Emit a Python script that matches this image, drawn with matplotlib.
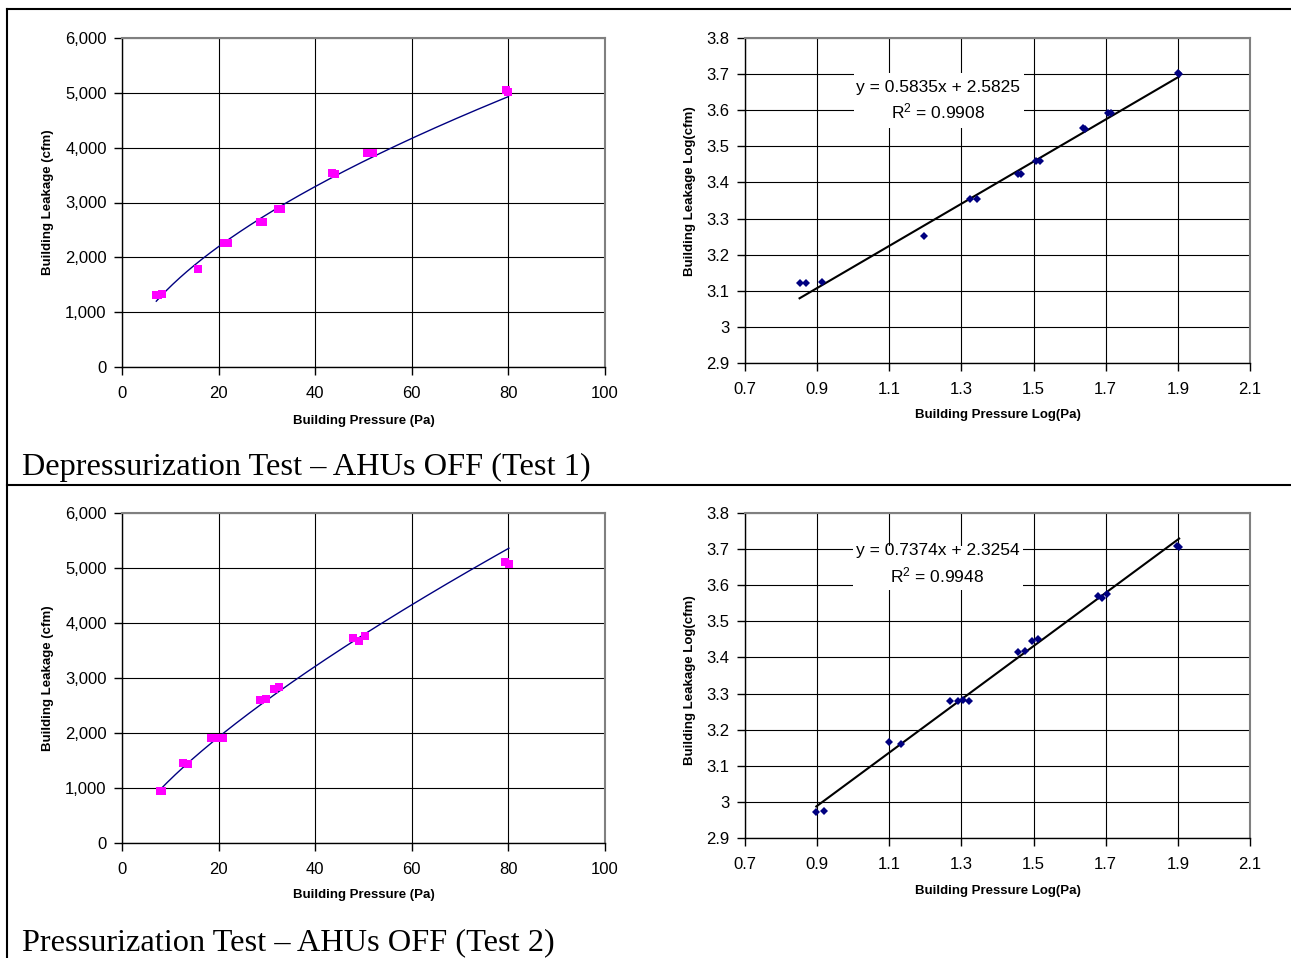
import numpy as np
import matplotlib
matplotlib.use("Agg")
import matplotlib.pyplot as plt
from matplotlib.lines import Line2D
from matplotlib.patches import Rectangle
from matplotlib.ticker import FuncFormatter, MultipleLocator, FixedLocator

plt.rcParams["font.family"] = ["Liberation Sans", "DejaVu Sans"]
plt.rcParams["mathtext.fontset"] = "custom"
plt.rcParams["mathtext.rm"] = "Liberation Sans"
plt.rcParams["mathtext.it"] = "Liberation Sans:italic"

# ---- Test 1: depressurization, AHUs off ----
test1_pressure_pa = [7.1, 7.4, 8.2, 15.7, 21.1, 22.0, 28.6, 29.1, 32.2, 33.0,
                     43.4, 44.0, 50.8, 51.9, 79.6, 80.0]
test1_leakage_cfm = [1321, 1321, 1334, 1782, 2265, 2265, 2649, 2649, 2884, 2884,
                     3545, 3525, 3899, 3899, 5050, 5010]
test1_slope = 0.5835
test1_intercept = 2.5825
test1_r2 = 0.9908

# ---- Test 2: pressurization, AHUs off ----
test2_pressure_pa = [7.9, 8.3, 12.6, 13.6, 18.5, 19.5, 20.1, 20.9, 28.6, 29.9,
                     31.4, 32.5, 47.8, 49.1, 50.4, 79.2, 80.1]
test2_leakage_cfm = [940, 942, 1462, 1442, 1905, 1905, 1914, 1905, 2606, 2624,
                     2793, 2831, 3724, 3681, 3767, 5105, 5070]
test2_slope = 0.7374
test2_intercept = 2.3254
test2_r2 = 0.9948

log_x_ticks = [0.7, 0.9, 1.1, 1.3, 1.5, 1.7, 1.9, 2.1]

captions = ["Depressurization Test \u2013 AHUs OFF (Test 1)",
            "Pressurization Test \u2013 AHUs OFF (Test 2)"]

W, H = 1291, 958
fig = plt.figure(figsize=(W / 100, H / 100), dpi=100)
fig.patch.set_facecolor("white")


def px_axes(left, top, right, bottom):
    return fig.add_axes([left / W, 1 - bottom / H, (right - left) / W, (bottom - top) / H])


def style(ax):
    ax.set_axisbelow(True)
    ax.grid(True, color="black", lw=0.8)
    for s in ("top", "right"):
        ax.spines[s].set_color("#808080")
        ax.spines[s].set_linewidth(1.5)
    for s in ("left", "bottom"):
        ax.spines[s].set_color("black")
        ax.spines[s].set_linewidth(1.0)
    ax.tick_params(direction="out", length=6, width=1, labelsize=12, colors="black")
    ax.tick_params(axis="x", pad=7.5)
    ax.tick_params(axis="y", pad=5)


def linear_panel(ax, P, Q, slope, intercept, xlab_y, ylab_x):
    P = np.asarray(P, float)
    Q = np.asarray(Q, float)
    ax.plot(P, Q, "s", color="#FF00FF", ms=5.2, mew=0, zorder=4)
    p = np.linspace(P.min(), P.max(), 300)
    ax.plot(p, 10 ** intercept * p ** slope, color="#000080", lw=1.0, zorder=3)
    ax.set_xlim(0, 100)
    ax.set_ylim(0, 6000)
    ax.xaxis.set_major_locator(MultipleLocator(20))
    ax.yaxis.set_major_locator(MultipleLocator(1000))
    ax.yaxis.set_major_formatter(FuncFormatter(lambda v, _: f"{v:,.0f}"))
    style(ax)
    ax.set_xlabel("Building Pressure (Pa)", fontsize=9.5, fontweight="bold")
    ax.set_ylabel("Building Leakage (cfm)", fontsize=9.5, fontweight="bold")
    ax.xaxis.label.set_va("center")
    ax.yaxis.label.set_va("center")
    ax.xaxis.set_label_coords(0.5, xlab_y)
    ax.yaxis.set_label_coords(ylab_x, 0.5)


def log_panel(ax, P, Q, slope, intercept, r2, box, eq_pos, xlab_y, ylab_pos):
    lp = np.log10(np.asarray(P, float))
    lq = np.log10(np.asarray(Q, float))
    ax.plot(lp, lq, "D", color="#000080", ms=4.3, mew=0, zorder=4)
    x = np.array([lp.min(), lp.max()])
    ax.plot(x, slope * x + intercept, color="black", lw=1.5, zorder=3)
    ax.set_xlim(0.7, 2.1)
    ax.set_ylim(2.9, 3.8)
    ax.xaxis.set_major_locator(FixedLocator(log_x_ticks))
    ax.yaxis.set_major_locator(MultipleLocator(0.1))
    ax.xaxis.set_major_formatter(FuncFormatter(lambda v, _: f"{v:.1f}"))
    ax.yaxis.set_major_formatter(FuncFormatter(lambda v, _: f"{round(v, 1):g}"))
    style(ax)
    ax.set_xlabel("Building Pressure Log(Pa)", fontsize=9.5, fontweight="bold")
    ax.set_ylabel("Building Leakage Log(cfm)", fontsize=9.5, fontweight="bold")
    ax.xaxis.label.set_va("center")
    ax.yaxis.label.set_va("center")
    ax.xaxis.set_label_coords(0.5, xlab_y)
    ax.yaxis.set_label_coords(*ylab_pos)
    bx0, by0, bx1, by1 = box
    ax.add_patch(Rectangle((bx0, by0), bx1 - bx0, by1 - by0, transform=ax.transAxes,
                           facecolor="white", edgecolor="none", zorder=2))
    ex, ey1, ey2 = eq_pos
    ax.text(ex, ey1, f"y = {slope:.4f}x + {intercept:.4f}", transform=ax.transAxes,
            ha="center", va="center", fontsize=12.5, zorder=5)
    ax.text(ex, ey2, f"R$^2$ = {r2:.4f}", transform=ax.transAxes,
            ha="center", va="center", fontsize=12.5, zorder=5)


ax1 = px_axes(122, 38, 605, 367)
linear_panel(ax1, test1_pressure_pa, test1_leakage_cfm, test1_slope, test1_intercept,
             -0.163, -0.153)
ax2 = px_axes(745, 38, 1250, 363)
log_panel(ax2, test1_pressure_pa, test1_leakage_cfm, test1_slope, test1_intercept, test1_r2,
          (0.216, 0.723, 0.552, 0.892), (0.382, 0.847, 0.773), -0.160, (-0.109, 0.53))

ax3 = px_axes(122, 513, 605, 843)
linear_panel(ax3, test2_pressure_pa, test2_leakage_cfm, test2_slope, test2_intercept,
             -0.158, -0.153)
ax4 = px_axes(745, 513, 1250, 838)
log_panel(ax4, test2_pressure_pa, test2_leakage_cfm, test2_slope, test2_intercept, test2_r2,
          (0.214, 0.763, 0.550, 0.898), (0.381, 0.884, 0.809), -0.163, (-0.109, 0.485))

# table-like frame around the figure panels
for xs, ys in (([7, W], [9, 9]), ([7, 7], [9, H]), ([7, W], [485, 485])):
    fig.add_artist(Line2D([x / W for x in xs], [1 - y / H for y in ys],
                          transform=fig.transFigure, color="black", lw=1.5))

fig.text(22 / W, 1 - 467 / H, captions[0], family="Liberation Serif", fontsize=23.3,
         ha="left", va="center")
fig.text(22 / W, 1 - 943 / H, captions[1], family="Liberation Serif", fontsize=23.3,
         ha="left", va="center")

fig.savefig("out.png", dpi=100, facecolor="white")
